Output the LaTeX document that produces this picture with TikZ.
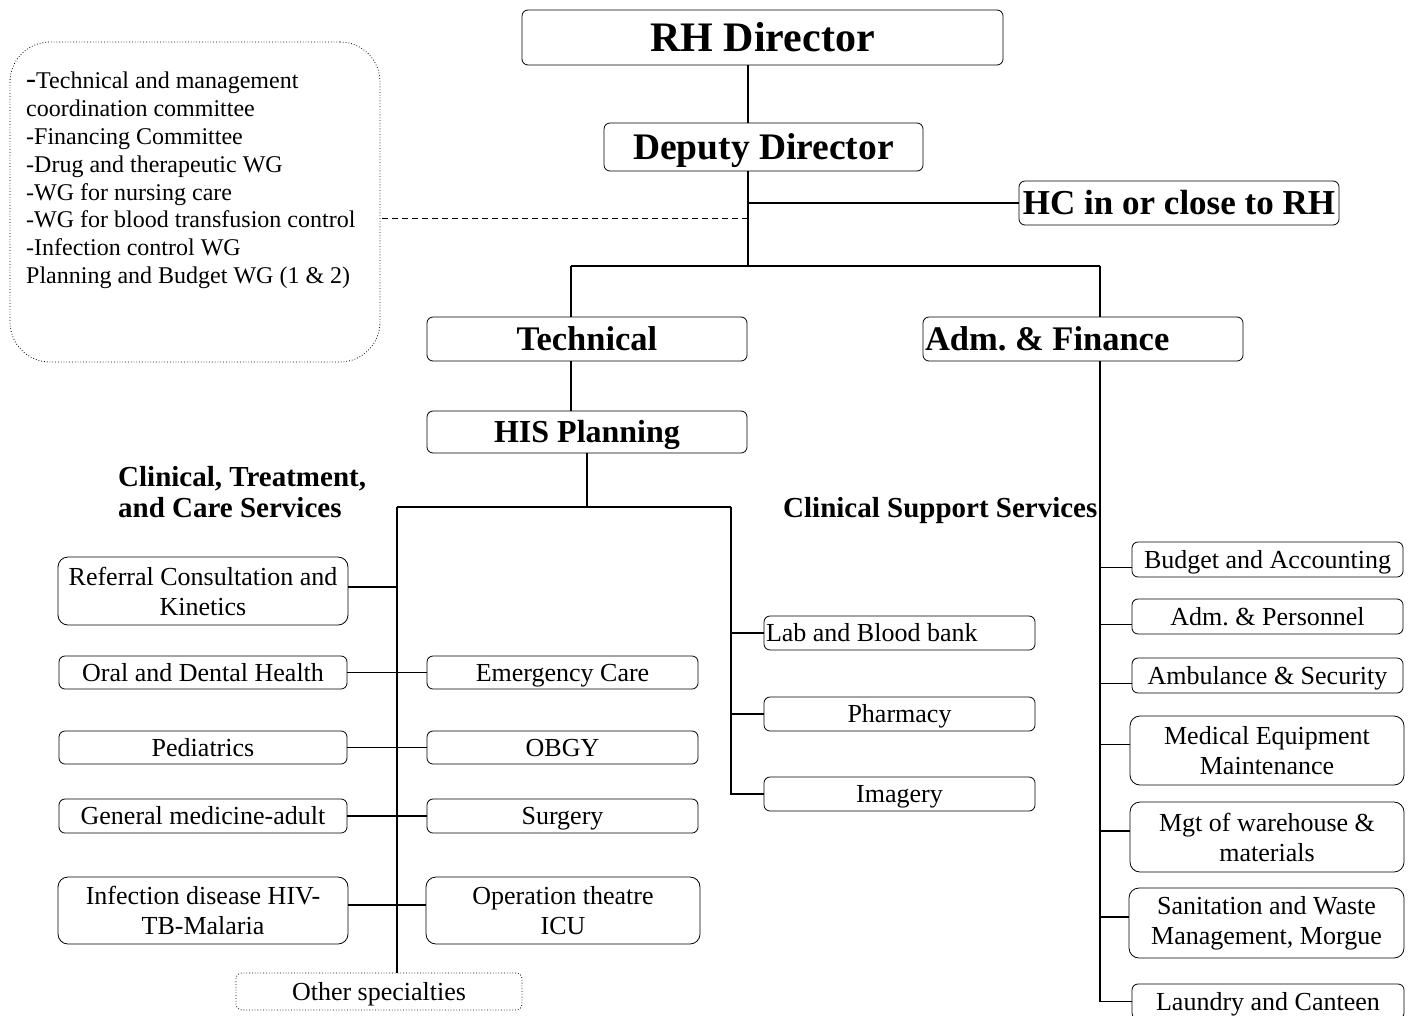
\documentclass[tikz,border=0pt]{standalone}
\usepackage{fontspec}
\setmainfont{Liberation Serif}
\newcommand\boxstrut{\rule[-0.216em]{0pt}{1.107em}}

\begin{document}
\frenchspacing
\begin{tikzpicture}[x=1pt,y=-1pt,
  tallbox/.style={draw,line width=0.8pt,rounded corners=10pt,inner sep=0pt,align=center,font=\fontsize{26}{30}\selectfont},
  box/.style={tallbox,rounded corners=6pt,execute at begin node=\boxstrut},
  headbox/.style={box,font=\fontsize{34.5}{40}\bfseries\selectfont},
  link/.style={line width=1.7pt},
  unit/.style={box,minimum width=271,minimum height=34}]
%\draw [help lines,black!20!white] (0,0) grid[step=100] (1413,1015);
\useasboundingbox (0,0) rectangle (1413,1015);
\clip (0,0) rectangle (1413,1015);

% top of the chart
\node[headbox,font=\fontsize{42}{46}\bfseries\selectfont,minimum width=481,minimum height=55] (rh) at (762.5,37.5) {RH Director};
\node[headbox,font=\fontsize{37.5}{40}\bfseries\selectfont,minimum width=319,minimum height=48] (dep) at (763.5,147) {Deputy Director};
\node[headbox,font=\fontsize{35}{40}\bfseries\selectfont,minimum width=320,minimum height=44] (hc) at (1179,203) {HC in or close to RH};
\node[headbox,minimum width=320,minimum height=44] (tech) at (587,339) {Technical};
\node[headbox,align=flush left,text width=316,inner xsep=2pt,minimum height=44] (adm) at (1083,339) {Adm. \& Finance};
\node[headbox,font=\fontsize{32}{36}\bfseries\selectfont,minimum width=320,minimum height=42] (his) at (587,432) {HIS Planning};

% committees
\node[draw,dotted,line width=0.8pt,rounded corners=40pt,minimum width=370,minimum height=320] (wg) at (195,202) {};
\node[anchor=north west,align=flush left,inner sep=0pt,font=\fontsize{24}{27.8}\selectfont] (wgtext) at (26,72)
  {{\fontsize{30}{27.8}\selectfont -}Technical and management\\coordination committee\\-Financing Committee\\-Drug and therapeutic WG\\-WG for nursing care\\-WG for blood transfusion control\\-Infection control WG\\Planning and Budget WG (1 \& 2)};

\coordinate (top) at (748,266);
\coordinate (wgj) at (748,218);
\coordinate (tj) at (571,266);
\coordinate (aj) at (1100,266);

\draw[line width=1.3pt] (top |- rh.south) -- (top |- dep.north);
\draw[link] (top |- dep.south) -- (top);
\draw[link] (top |- hc.west) -- (hc.west);
\draw[dashed,line width=1pt,dash pattern=on 6pt off 4pt] (wgj) -- (wgj -| wg.east);
\draw[link] (tj) -- (aj);
\draw[link] (tj) -- (tj |- tech.north);
\draw[link] (tj |- tech.south) -- (tj |- his.north);

% section titles
\node[anchor=west,align=flush left,inner sep=0pt,font=\fontsize{29}{31}\bfseries\selectfont] (ctitle) at (118,492) {Clinical, Treatment,\\and Care Services};
\node[anchor=base west,inner sep=0pt,font=\fontsize{29}{31}\bfseries\selectfont] (stitle) at (783,517.5) {Clinical Support Services};

% clinical, treatment and care
\node[tallbox,minimum width=290,minimum height=68] (ref) at (203,591) {Referral Consultation and\\Kinetics};
\node[box,minimum width=288,minimum height=33] (oral) at (203,672.5) {Oral and Dental Health};
\node[box,minimum width=288,minimum height=33] (ped) at (203,747.5) {Pediatrics};
\node[box,minimum width=288,minimum height=34] (gen) at (203,816) {General medicine-adult};
\node[tallbox,minimum width=290,minimum height=67] (inf) at (203,910.5) {Infection disease HIV-\\TB-Malaria};
\node[box,minimum width=271,minimum height=33] (emer) at (562.5,672.5) {Emergency Care};
\node[box,minimum width=271,minimum height=33] (obgy) at (562.5,747.5) {OBGY};
\node[box,minimum width=271,minimum height=34] (surg) at (562.5,816) {Surgery};
\node[tallbox,minimum width=274,minimum height=67] (oper) at (563,910.5) {Operation theatre\\ICU};
\node[box,dotted,minimum width=286,minimum height=37] (other) at (379,991.5) {Other specialties};

\coordinate (cl) at (397,507);
\coordinate (cr) at (731,507);
\draw[link] (his.south) -- (his.south |- cl);
\draw[link] (cl) -- (cr);
\draw[link] (cl) -- (cl |- other.north);
\draw[link] ([yshift=4pt]ref.east) -- ([yshift=4pt]ref.east -| cl);
\draw[link] (oral.east) -- (emer.west);
\draw[link] (ped.east) -- (obgy.west);
\draw[link] (gen.east) -- (surg.west);
\draw[link] ([yshift=5.5pt]inf.east) -- ([yshift=5.5pt]oper.west);

% clinical support
\node[unit,align=flush left,text width=267,inner xsep=2pt] (lab) at (899.5,633) {Lab and Blood bank};
\node[unit] (pha) at (899.5,714) {Pharmacy};
\node[unit] (img) at (899.5,794) {Imagery};

\draw[link] (cr) |- (img.west);
\draw[link] (cr |- lab.west) -- (lab.west);
\draw[link] (cr |- pha.west) -- (pha.west);

% administration and finance
\node[unit,minimum height=35] (bud) at (1267.5,559.5) {Budget and Accounting};
\node[unit,minimum height=35] (pers) at (1267.5,616.5) {Adm. \& Personnel};
\node[unit,minimum height=35] (amb) at (1267.5,675.5) {Ambulance \& Security};
\node[tallbox,minimum width=274,minimum height=69] (meq) at (1267,750.5) {Medical Equipment\\Maintenance};
\node[tallbox,minimum width=274,minimum height=70] (mgt) at (1267,837) {Mgt of warehouse \&\\materials};
\node[tallbox,minimum width=275,minimum height=70] (san) at (1266.5,923) {Sanitation and Waste\\Management, Morgue};
\node[unit,minimum width=272,minimum height=35] (lau) at (1268,1001.5) {Laundry and Canteen};

\draw[link] (aj) -- (aj |- adm.north);
\draw[link] (aj |- adm.south) |- (lau.west);
\foreach \u/\o in {bud/-8pt,pers/-8pt,amb/-8pt,meq/6pt,mgt/6pt,san/6pt}{
  \coordinate (s) at ([yshift=\o]\u.west);
  \draw[link] (s -| aj) -- (s);
}

\end{tikzpicture}
\end{document}
